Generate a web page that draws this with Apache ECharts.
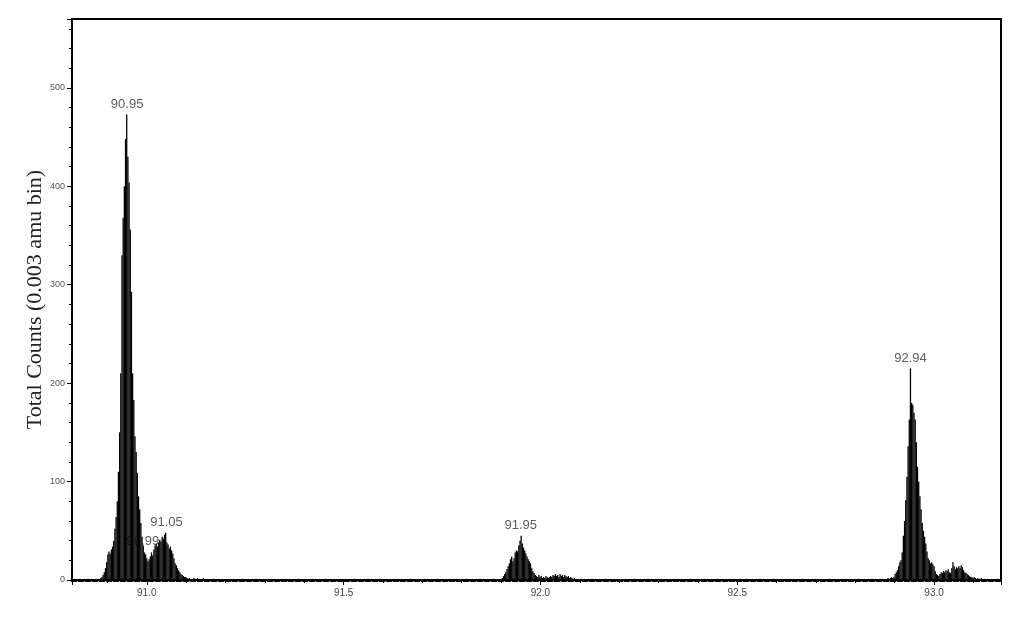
<!DOCTYPE html>
<html>
<head>
<meta charset="utf-8">
<script src="https://cdn.jsdelivr.net/npm/echarts@6/dist/echarts.min.js"></script>
<style>
html,body{margin:0;padding:0;background:#fff;}
#chart{width:1024px;height:626px;}
</style>
</head>
<body>
<div id="chart"></div>
<script>
// ---- data (0.003 amu bins) ----
const binWidth = 0.003;

const peak1Start = 90.880;
const peak1Counts = [1,2,3,5,8,12,18,26,29,27,31,34,40,52,64,80,110,150,210,330,368,400,448,473,430,404,356,293,210,183,146,130,109,85,72,58,44,35,28,26,22,19,21,24,28,25,31,35,37,34,38,41,39,44,42,46,48,38,36,32,34,30,27,22,17,15,12,10,8,6,5,4,3,3,2,1,2,1,0,1,2,1,0,2,1,1,0,1,2,1,0,1];

const peak2Start = 91.900;
const peak2Counts = [1,2,4,6,8,11,14,17,21,24,19,22,28,30,29,35,40,45,37,33,30,27,24,21,19,17,12,9,7,5,4,3,5,3,4,2,3,2,4,3,2,3,4,3,5,4,6,4,5,3,6,4,5,3,5,4,3,4,2,3,2,1,2,1,1];

const peak3Start = 92.880;
const peak3Counts = [1,2,1,2,3,2,3,6,8,10,14,18,20,28,45,60,81,105,136,163,215,180,178,170,163,140,115,100,85,72,58,50,44,37,29,22,20,17,18,16,14,9,6,5,4,6,8,7,9,8,10,9,11,8,7,12,18,14,11,13,12,14,12,15,13,10,8,7,6,5,4,3,3,2,3,2,1,2,1,1,2,1,1];

const labelMass  = [90.95, 90.99, 91.05, 91.95, 92.94];
const labelCount = [473, 29, 48, 45, 215];
const labelText  = ['90.95', '90.99', '91.05', '91.95', '92.94'];

const xMin = 90.81, xMax = 93.17;
const yMin = 0, yMax = 570;
const yTitle = 'Total Counts (0.003 amu bin)';

// ---- build series data ----
function segment(start, counts) {
  return counts.map((c, i) => [Math.round((start + i * binWidth) * 10000) / 10000, c]);
}
const barData = [].concat(
  segment(peak1Start, peak1Counts),
  segment(peak2Start, peak2Counts),
  segment(peak3Start, peak3Counts)
);
const labelData = labelMass.map((m, i) => ({ value: [m, labelCount[i]], name: labelText[i] }));

const chart = echarts.init(document.getElementById('chart'), null, { renderer: 'canvas' });
chart.setOption({
  animation: false,
  backgroundColor: '#fff',
  grid: { left: 72, right: 23, top: 19, bottom: 46, show: true, borderColor: '#000', borderWidth: 2, backgroundColor: 'transparent' },
  xAxis: {
    type: 'value', min: xMin, max: xMax,
    splitLine: { show: false },
    axisLine: { show: true, lineStyle: { color: '#000', width: 3, type: [4, 3] } },
    axisTick: { show: true, length: 5, lineStyle: { color: '#000', width: 1 } },
    minorTick: { show: true, splitNumber: 5, length: 3, lineStyle: { color: '#000', width: 1 } },
    axisLabel: {
      margin: 8, color: '#444', fontSize: 10, fontFamily: 'Liberation Sans',
      showMinLabel: false, showMaxLabel: false,
      formatter: v => v.toFixed(1)
    }
  },
  yAxis: {
    type: 'value', min: yMin, max: yMax, interval: 100,
    name: yTitle, nameLocation: 'middle', nameGap: 26, nameMoveOverlap: false,
    nameTextStyle: { fontFamily: 'Liberation Serif', fontSize: 22, color: '#222' },
    splitLine: { show: false },
    axisLine: { show: true, lineStyle: { color: '#000', width: 2 } },
    axisTick: { show: true, length: 5, lineStyle: { color: '#000', width: 1 } },
    minorTick: { show: true, splitNumber: 5, length: 3, lineStyle: { color: '#000', width: 1 } },
    axisLabel: {
      margin: 7, color: '#555', fontSize: 9, fontFamily: 'Liberation Sans',
      formatter: v => (v % 100 === 0 ? String(v) : '')
    }
  },
  series: [
    {
      type: 'scatter', zlevel: 0, z: 1,
      data: labelData,
      symbolSize: 1,
      itemStyle: { color: 'rgba(0,0,0,0)' },
      label: {
        show: true, position: 'top', distance: 3,
        formatter: p => p.name,
        color: '#333', fontSize: 13, fontFamily: 'Liberation Sans'
      },
      silent: true
    },
    {
      type: 'bar', zlevel: 1, z: 2,
      data: barData,
      barWidth: 1.3,
      itemStyle: { color: '#000' },
      silent: true
    }
  ]
});
</script>
</body>
</html>
